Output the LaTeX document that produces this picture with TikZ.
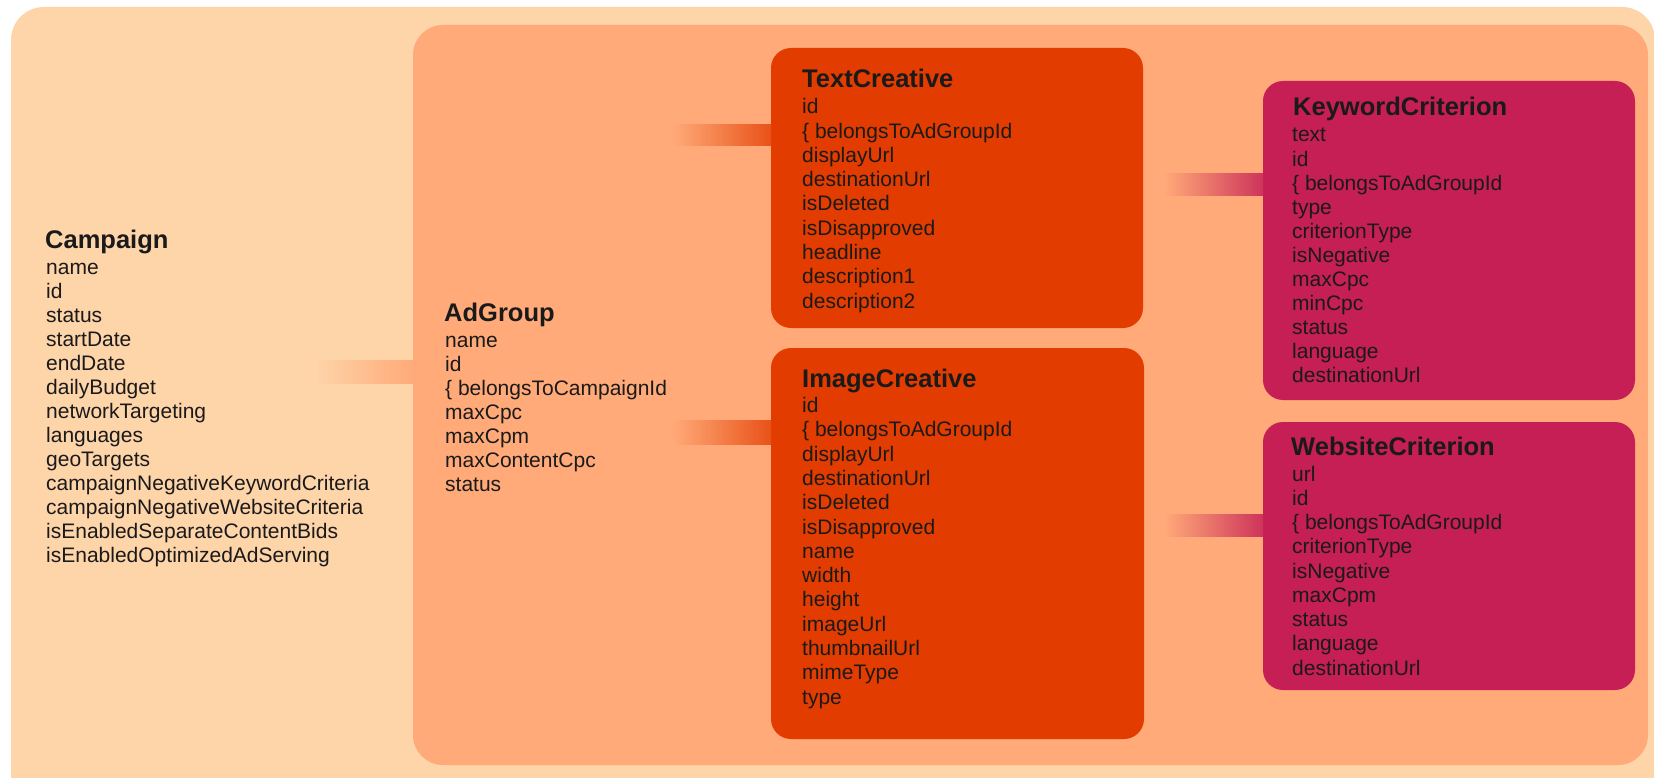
\documentclass[tikz,border=0pt]{standalone}
\usepackage{fontspec}
\setmainfont{Liberation Sans}
\definecolor{bgc}{HTML}{FED4A9}
\definecolor{adc}{HTML}{FFAA78}
\definecolor{crc}{HTML}{E33C00}
\definecolor{kwc}{HTML}{C51F55}
\definecolor{txc}{HTML}{1A1A1A}
\tikzset{
  box/.style={anchor=north west, inner sep=0pt, outer sep=0pt, draw=none},
  ttl/.style={anchor=base west, inner sep=0pt, text=txc, font=\fontsize{25.5}{28}\selectfont\bfseries},
  fld/.style={anchor=base west, inner sep=0pt, text=txc, font=\fontsize{21}{24}\selectfont},
}
\newcommand\myfields[5]{%
  \foreach \t [count=\i from 0] in {#5} \node[fld] (#1\i) at (#2,{#3+\i*#4}) {\t};}
\begin{document}
\begin{tikzpicture}[x=1pt,y=-1pt]
\useasboundingbox (0,0) rectangle (1654,778);
\fill[white] (0,0) rectangle (1654,778);
% boxes
\node[box, fill=bgc, rounded corners=33pt, minimum width=1644pt, minimum height=820pt] (cmp) at (11,7) {};
\node[box, fill=adc, rounded corners=30pt, minimum width=1235pt, minimum height=740pt] (adg) at (413,25) {};
\node[box, fill=crc, rounded corners=20pt, minimum width=372pt, minimum height=280pt] (tcr) at (771,48) {};
\node[box, fill=crc, rounded corners=20pt, minimum width=373pt, minimum height=391pt] (icr) at (771,348) {};
\node[box, fill=kwc, rounded corners=20pt, minimum width=372pt, minimum height=319pt] (kwd) at (1263,81) {};
\node[box, fill=kwc, rounded corners=20pt, minimum width=372pt, minimum height=268pt] (web) at (1263,422) {};
% connectors (fading bars)
\coordinate (cmpA) at (315,360); \coordinate (cmpB) at (413,383);
\shade[left color=bgc, right color=adc] (cmpA) rectangle (cmpB -| adg.west);
\coordinate (tcrA) at (673,125); \coordinate (tcrB) at (771,146);
\shade[left color=adc, right color=crc!80!adc] (tcrA) rectangle (tcrB -| tcr.west);
\coordinate (icrA) at (673,420); \coordinate (icrB) at (771,444);
\shade[left color=adc, right color=crc!80!adc] (icrA) rectangle (icrB -| icr.west);
\coordinate (kwdA) at (1164,174); \coordinate (kwdB) at (1263,196);
\shade[left color=adc, right color=kwc!85!adc] (kwdA) rectangle (kwdB -| kwd.west);
\coordinate (webA) at (1164,514); \coordinate (webB) at (1263,536);
\shade[left color=adc, right color=kwc!85!adc] (webA) rectangle (webB -| web.west);
% Campaign
\node[ttl] (cmpT) at (45,248) {Campaign};
\myfields{cmpF}{46}{274}{24}{name,id,status,startDate,endDate,dailyBudget,networkTargeting,languages,geoTargets,campaignNegativeKeywordCriteria,campaignNegativeWebsiteCriteria,isEnabledSeparateContentBids,isEnabledOptimizedAdServing}
% AdGroup
\node[ttl] (adgT) at (444,321) {AdGroup};
\myfields{adgF}{445}{347}{24}{name,id,\{ belongsToCampaignId,maxCpc,maxCpm,maxContentCpc,status}
% TextCreative
\node[ttl] (tcrT) at (802,88) {TextCreative};
\myfields{tcrF}{802}{114}{24.25}{id,\{ belongsToAdGroupId,displayUrl,destinationUrl,isDeleted,isDisapproved,headline,description1,description2}
% ImageCreative
\node[ttl] (icrT) at (802,387) {ImageCreative};
\myfields{icrF}{802}{412.5}{24.3}{id,\{ belongsToAdGroupId,displayUrl,destinationUrl,isDeleted,isDisapproved,name,width,height,imageUrl,thumbnailUrl,mimeType,type}
% KeywordCriterion
\node[ttl] (kwdT) at (1293,116) {KeywordCriterion};
\myfields{kwdF}{1292}{142}{24.05}{text,id,\{ belongsToAdGroupId,type,criterionType,isNegative,maxCpc,minCpc,status,language,destinationUrl}
% WebsiteCriterion
\node[ttl] (webT) at (1291,455) {WebsiteCriterion};
\myfields{webF}{1292}{481}{24.25}{url,id,\{ belongsToAdGroupId,criterionType,isNegative,maxCpm,status,language,destinationUrl}
\end{tikzpicture}
\end{document}
